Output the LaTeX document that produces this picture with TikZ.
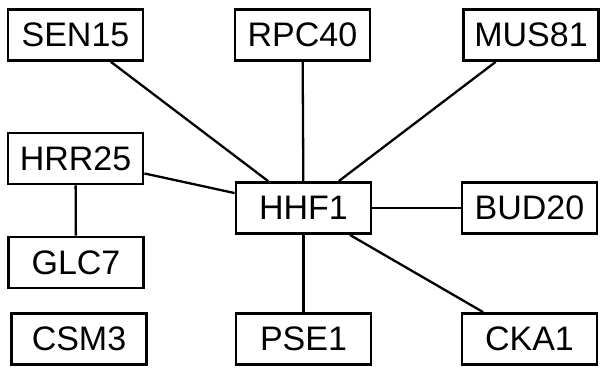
\documentclass[tikz,border=0pt]{standalone}
\usepackage{fontspec}
\setmainfont{Liberation Sans}
\begin{document}
\begin{tikzpicture}[x=1pt,y=-1pt,
  gene/.style={draw=black, line width=2.8pt, fill=white, minimum width=135pt, minimum height=51pt, inner sep=0pt, font=\fontsize{34}{38}\selectfont},
  link/.style={draw=black, line width=2.3pt}]
\useasboundingbox (0,0) rectangle (600,367);
\node[gene] (SEN15) at (75.5,35) {SEN15};
\node[gene] (RPC40) at (302.5,35) {RPC40};
\node[gene] (MUS81) at (531,35) {MUS81};
\node[gene] (HRR25) at (75.5,158.5) {HRR25};
\node[gene] (HHF1) at (303.5,208) {HHF1};
\node[gene] (BUD20) at (529.5,208) {BUD20};
\node[gene] (GLC7) at (76,262.5) {GLC7};
\node[gene] (CSM3) at (79,339) {CSM3};
\node[gene] (PSE1) at (303.5,339) {PSE1};
\node[gene] (CKA1) at (529.5,339) {CKA1};
\draw[link] (SEN15) -- (HHF1);
\draw[link] (RPC40) -- (HHF1);
\draw[link] (MUS81) -- (HHF1);
\draw[link] (HRR25) -- (HHF1);
\draw[link] (HRR25) -- (GLC7);
\draw[link] (HHF1) -- (BUD20);
\draw[link] (HHF1) -- (PSE1);
\draw[link] (HHF1) -- (CKA1);
\end{tikzpicture}
\end{document}
